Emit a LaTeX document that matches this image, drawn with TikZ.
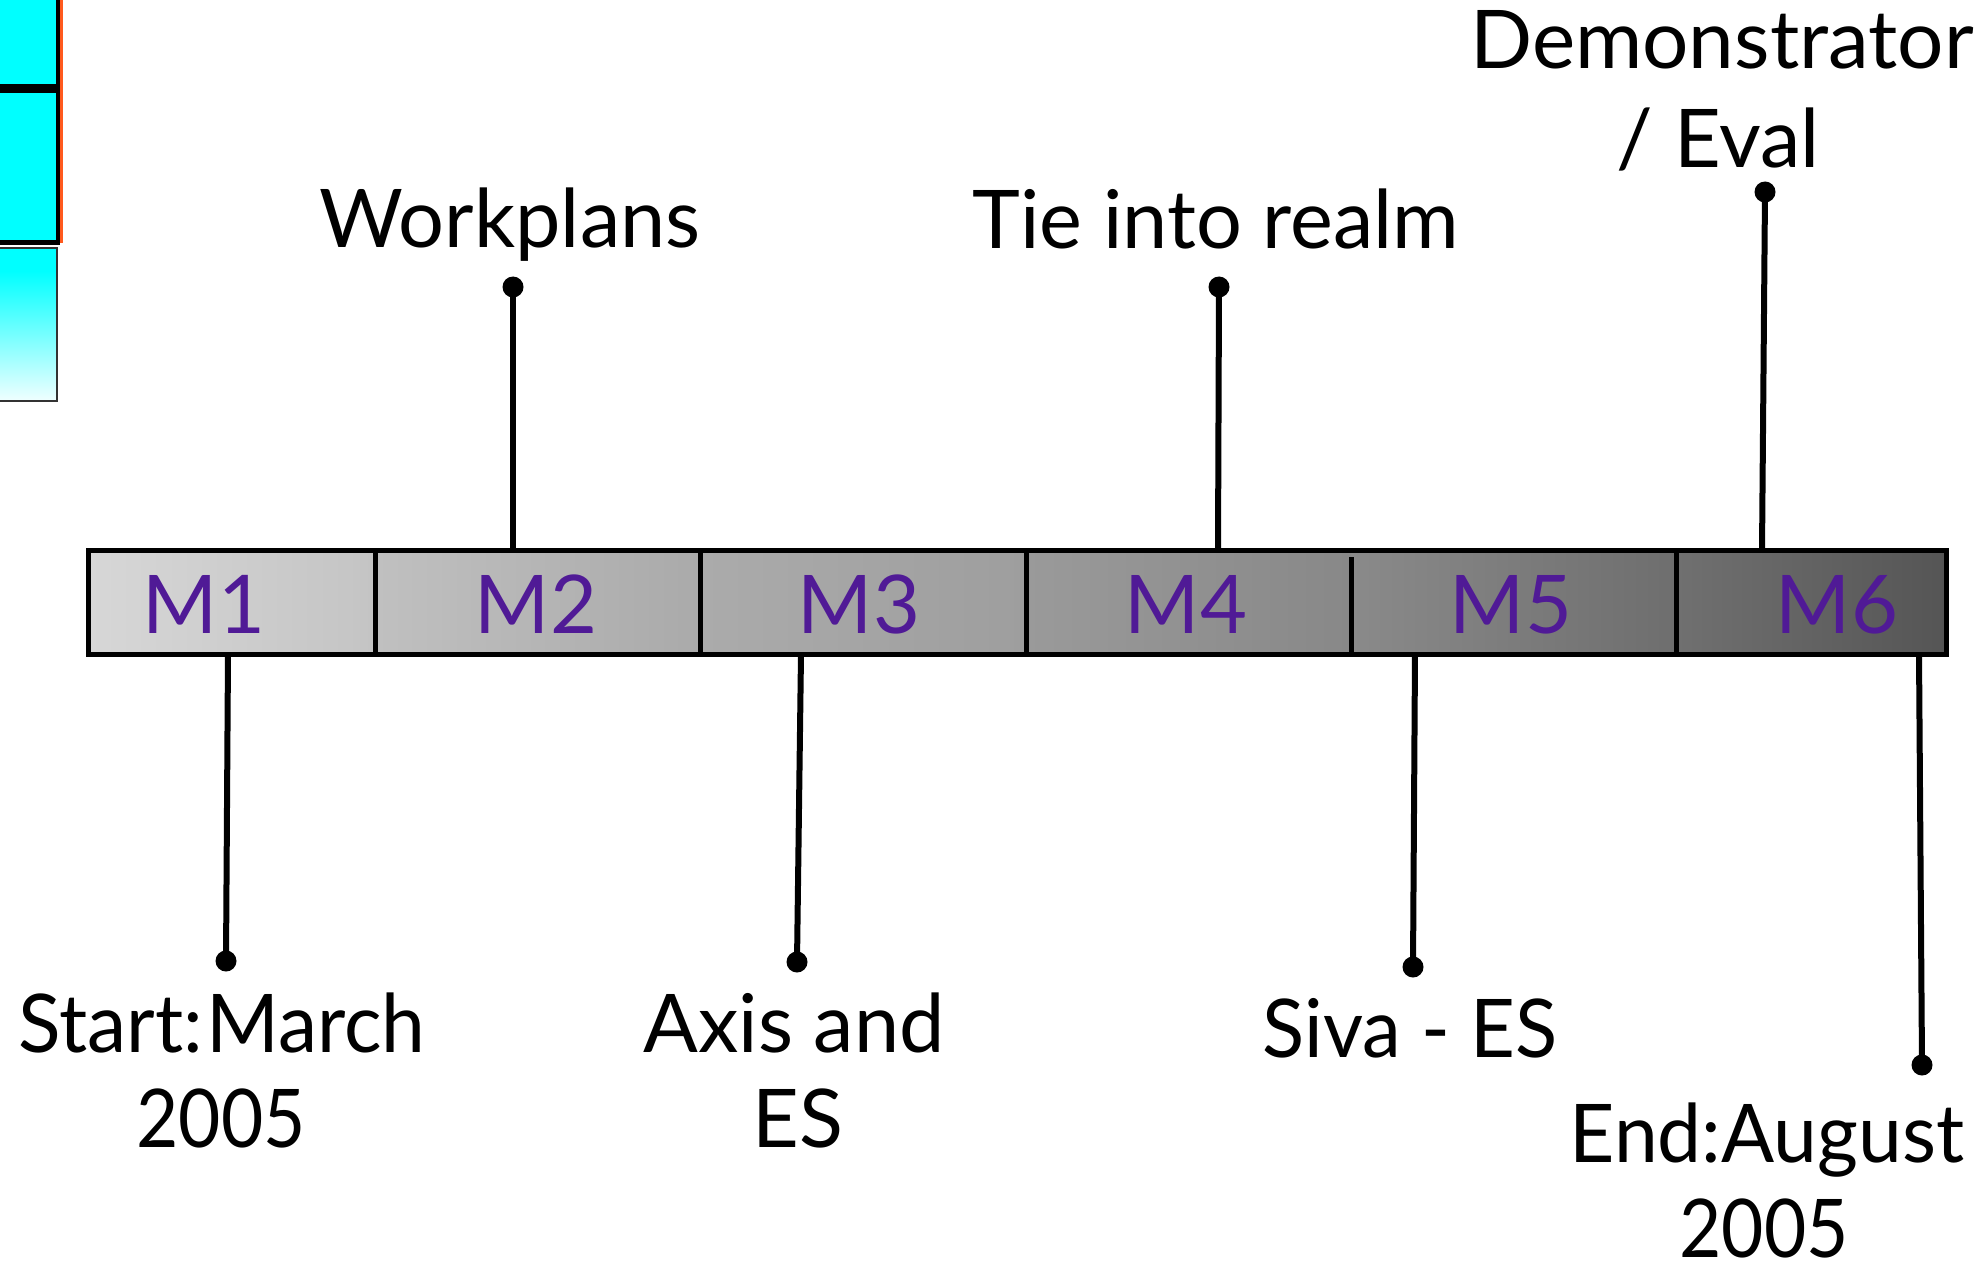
\documentclass[tikz,border=0pt]{standalone}
\usepackage{fontspec}
\usepackage{graphicx}
\setmainfont{Lato}
\definecolor{mpurple}{RGB}{80,26,150}
\definecolor{cyanbox}{RGB}{0,255,255}
\definecolor{palecyan}{RGB}{240,255,255}
\definecolor{edgeorange}{RGB}{255,90,30}
\newcommand{\hsq}[2]{\scalebox{#1}[1]{#2}}
\tikzset{
  lbl/.style={anchor=base, inner sep=0pt, font=\fontsize{81}{95}\selectfont, text=black},
  mlbl/.style={anchor=base, inner sep=0pt, font=\fontsize{81}{95}\selectfont, text=mpurple},
  dot/.style={circle, fill=black, inner sep=0pt, minimum size=21pt},
  conn/.style={line width=6pt, black},
  seg/.style={line width=5pt, draw=black},
}
\begin{document}
\begin{tikzpicture}[x=1pt,y=-1pt]
\useasboundingbox (0,0) rectangle (1975,1265);
% cyan boxes at top left
\fill[cyanbox] (-5,-5) rectangle (56,84);
\fill[cyanbox] (-5,93) rectangle (56,240);
\fill[black] (-5,84) rectangle (60,93);
\fill[black] (56,-5) rectangle (60,245);
\fill[black] (-5,240) rectangle (60,245);
\fill[edgeorange] (60,-5) rectangle (62.5,243);
\fill[cyanbox] (-5,248) rectangle (57,272);
\shade[top color=cyanbox, bottom color=palecyan] (-5,271) rectangle (57,401);
\draw[line width=2.5pt, black!80] (-5,248) rectangle (57,401);
% bar segments
\shade[left color={rgb,255:red,215;green,215;blue,215}, right color={rgb,255:red,196;green,196;blue,196}] (88,550) rectangle (375,654);
\shade[left color={rgb,255:red,192;green,192;blue,192}, right color={rgb,255:red,170;green,170;blue,170}] (375,550) rectangle (700,654);
\shade[left color={rgb,255:red,171;green,171;blue,171}, right color={rgb,255:red,158;green,158;blue,158}] (700,550) rectangle (1026,654);
\shade[left color={rgb,255:red,154;green,154;blue,154}, right color={rgb,255:red,136;green,136;blue,136}] (1026,550) rectangle (1351,654);
\shade[left color={rgb,255:red,138;green,138;blue,138}, right color={rgb,255:red,110;green,110;blue,110}] (1351,550) rectangle (1676,654);
\shade[left color={rgb,255:red,112;green,112;blue,112}, right color={rgb,255:red,85;green,85;blue,85}] (1676,550) rectangle (1946,654);
\draw[seg] (88,550) rectangle (1946,654);
\draw[seg] (375,550) -- (375,654);
\draw[seg] (700,550) -- (700,654);
\draw[seg] (1026,550) -- (1026,654);
\draw[seg] (1351,557) -- (1351,654);
\draw[seg] (1676,550) -- (1676,654);
% segment labels
\node[mlbl] (m1) at (204,633) {M1};
\node[mlbl] (m2) at (536,633) {M2};
\node[mlbl] (m3) at (859,633) {M3};
\node[mlbl] (m4) at (1186,633) {M4};
\node[mlbl] (m5) at (1511,633) {M5};
\node[mlbl] (m6) at (1837,633) {M6};
% connector anchors on the bar
\coordinate (bW) at (513,550);
\coordinate (bT) at (1218,550);
\coordinate (bD) at (1762,550);
\coordinate (bS) at (228,654);
\coordinate (bA) at (801,654);
\coordinate (bSi) at (1415,654);
\coordinate (bE) at (1919,654);
% dots
\node[dot] (dW) at (513,287) {};
\node[dot] (dT) at (1219,287) {};
\node[dot] (dD) at (1765,192) {};
\node[dot] (dS) at (226,961) {};
\node[dot] (dA) at (797,962) {};
\node[dot] (dSi) at (1413,967) {};
\node[dot] (dE) at (1922,1065) {};
% connectors
\draw[conn] (dW.center) -- (bW);
\draw[conn] (dT.center) -- (bT);
\draw[conn] (dD.center) -- (bD);
\draw[conn] (dS.center) -- (bS);
\draw[conn] (dA.center) -- (bA);
\draw[conn] (dSi.center) -- (bSi);
\draw[conn] (dE.center) -- (bE);
% texts
\node[lbl] (tW) at (510,248) {Workplans};
\node[lbl] (tT) at (1216,249) {Tie into realm};
\node[lbl] (tD1) at (1722,69) {\hsq{1.01}{Demonstrator}};
\node[lbl] (tD2) at (1718,168) {/ Eval};
\node[lbl] (tS1) at (222,1052) {\hsq{0.97}{Start:\hspace{3pt}March}};
\node[lbl] (tS2) at (221,1147) {\hsq{0.9}{2005}};
\node[lbl] (tA1) at (794,1052) {Axis and};
\node[lbl] (tA2) at (798,1147) {ES};
\node[lbl] (tSi) at (1410,1057) {\hsq{0.96}{Siva - ES}};
\node[lbl] (tE1) at (1767,1162) {\hsq{0.97}{End:August}};
\node[lbl] (tE2) at (1764,1257) {\hsq{0.9}{2005}};
\end{tikzpicture}
\end{document}
